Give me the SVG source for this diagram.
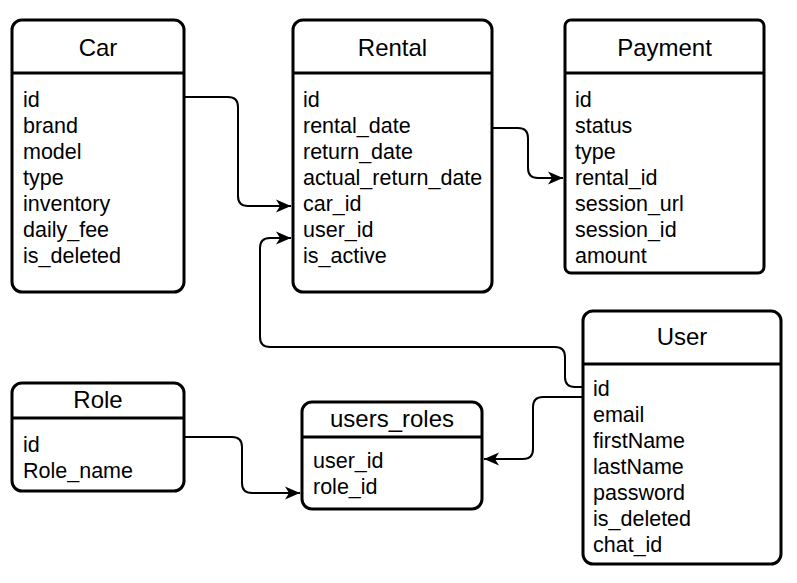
<svg xmlns="http://www.w3.org/2000/svg" width="797" height="583" viewBox="0 0 797 583">
<style>
.box{fill:#fff;stroke:#000;stroke-width:3}
.hl{stroke:#000;stroke-width:3}
.t{font-family:"Liberation Sans",Arial,sans-serif;font-size:24px;fill:#000;text-anchor:middle}
.f{font-family:"Liberation Sans",Arial,sans-serif;font-size:21.5px;fill:#000}
.c{fill:none;stroke:#000;stroke-width:2}
</style>
<defs>
<marker id="arr" markerUnits="userSpaceOnUse" markerWidth="16" markerHeight="14" refX="15" refY="7" orient="auto">
<path d="M0,0.5 L15,7 L0,13.5 L4,7 Z" fill="#000"/>
</marker>
</defs>
<rect width="797" height="583" fill="#fff"/>
<g id="connectors">
<path class="c" d="M183,97 H228 Q238,97 238,107 V196 Q238,206 248,206 H291" marker-end="url(#arr)"/>
<path class="c" d="M583,387 H575 Q565,387 565,377 V357 Q565,347 555,347 H270 Q260,347 260,337 V248 Q260,238 270,238 H291" marker-end="url(#arr)"/>
<path class="c" d="M583,397 H543 Q533,397 533,407 V449 Q533,459 523,459 H484" marker-end="url(#arr)"/>
<path class="c" d="M184,437 H232 Q242,437 242,447 V483 Q242,493 252,493 H300" marker-end="url(#arr)"/>
<path class="c" d="M492,128 H518 Q528,128 528,138 V168 Q528,178 538,178 H563" marker-end="url(#arr)"/>
</g>
<g id="car">
<rect class="box" x="12" y="20" width="172" height="272" rx="10"/>
<line class="hl" x1="12" y1="73" x2="184" y2="73"/>
<text class="t" x="98" y="56">Car</text>
<text class="f" x="23" y="107">id</text>
<text class="f" x="23" y="133">brand</text>
<text class="f" x="23" y="159">model</text>
<text class="f" x="23" y="185">type</text>
<text class="f" x="23" y="211">inventory</text>
<text class="f" x="23" y="237">daily_fee</text>
<text class="f" x="23" y="263">is_deleted</text>
</g>
<g id="rental">
<rect class="box" x="293" y="20" width="199" height="272" rx="10"/>
<line class="hl" x1="293" y1="73" x2="492" y2="73"/>
<text class="t" x="392.5" y="56">Rental</text>
<text class="f" x="303" y="107">id</text>
<text class="f" x="303" y="133">rental_date</text>
<text class="f" x="303" y="159">return_date</text>
<text class="f" x="303" y="185">actual_return_date</text>
<text class="f" x="303" y="211">car_id</text>
<text class="f" x="303" y="237">user_id</text>
<text class="f" x="303" y="263">is_active</text>
</g>
<g id="payment">
<rect class="box" x="565" y="20" width="199" height="253" rx="6"/>
<line class="hl" x1="565" y1="73" x2="764" y2="73"/>
<text class="t" x="664.5" y="56">Payment</text>
<text class="f" x="575" y="107">id</text>
<text class="f" x="575" y="133">status</text>
<text class="f" x="575" y="159">type</text>
<text class="f" x="575" y="185">rental_id</text>
<text class="f" x="575" y="211">session_url</text>
<text class="f" x="575" y="237">session_id</text>
<text class="f" x="575" y="263">amount</text>
</g>
<g id="user">
<rect class="box" x="583" y="311" width="198" height="253" rx="10"/>
<line class="hl" x1="583" y1="364" x2="781" y2="364"/>
<text class="t" x="682" y="345">User</text>
<text class="f" x="593" y="396">id</text>
<text class="f" x="593" y="422">email</text>
<text class="f" x="593" y="448">firstName</text>
<text class="f" x="593" y="474">lastName</text>
<text class="f" x="593" y="500">password</text>
<text class="f" x="593" y="526">is_deleted</text>
<text class="f" x="593" y="552">chat_id</text>
</g>
<g id="role">
<rect class="box" x="12" y="383" width="172" height="108" rx="10"/>
<line class="hl" x1="12" y1="418" x2="184" y2="418"/>
<text class="t" x="98" y="408">Role</text>
<text class="f" x="23" y="452">id</text>
<text class="f" x="23" y="478">Role_name</text>
</g>
<g id="users_roles">
<rect class="box" x="302" y="402" width="180" height="107" rx="10"/>
<line class="hl" x1="302" y1="437" x2="482" y2="437"/>
<text class="t" x="392" y="427">users_roles</text>
<text class="f" x="313" y="468">user_id</text>
<text class="f" x="313" y="494">role_id</text>
</g>
</svg>
